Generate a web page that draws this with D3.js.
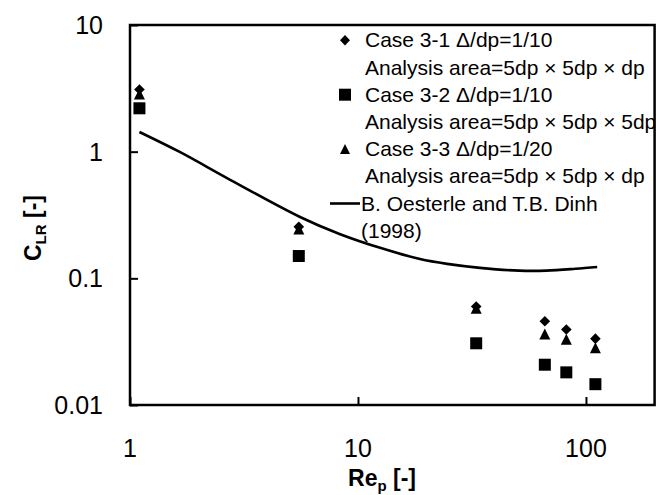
<!DOCTYPE html>
<html>
<head>
<meta charset="utf-8">
<script src="https://cdn.jsdelivr.net/npm/d3@7"></script>
<style>
  html, body { margin: 0; padding: 0; background: #fff; }
  svg { display: block; font-family: "Liberation Sans", Arial, sans-serif; }
</style>
</head>
<body>
<svg id="chart" width="660" height="495"></svg>
<script>
// ---- data ----
const rep = [1.1, 5.5, 33, 66, 82, 110];
const case31 = [3.1, 0.255, 0.060, 0.0458, 0.0395, 0.0334];   // diamond
const case32 = [2.2, 0.15, 0.0307, 0.0208, 0.0181, 0.0146];   // square
const case33 = [2.85, 0.245, 0.058, 0.0364, 0.0331, 0.0283];  // triangle
const oesterleRe = [1.1, 1.66, 2.75, 5.57, 8.3, 12.5, 18.7, 24.6, 34.3, 51, 67, 90, 112];
const oesterleC = [1.43, 0.99, 0.60, 0.305, 0.224, 0.174, 0.142, 0.130, 0.121, 0.115, 0.115, 0.119, 0.123];
const xTicks = [1, 10, 100];
const yTicks = [0.01, 0.1, 1, 10];
const xTickLabels = ["1", "10", "100"];
const yTickLabels = ["0.01", "0.1", "1", "10"];
const legendLabels = [
  "Case 3-1 Δ/dp=1/10", "Analysis area=5dp × 5dp × dp",
  "Case 3-2 Δ/dp=1/10", "Analysis area=5dp × 5dp × 5dp",
  "Case 3-3 Δ/dp=1/20", "Analysis area=5dp × 5dp × dp",
  "B. Oesterle and T.B. Dinh", "(1998)"
];

// ---- layout ----
const L = 130, R = 654.6, T = 25, B = 405;
const svg = d3.select("#chart");
const x = d3.scaleLog().domain([1, 200]).range([L, R]);
const y = d3.scaleLog().domain([0.01, 10]).range([B, T]);

// marker shapes
function diamond(w, h) { return `M0,${-h}L${w},0L0,${h}L${-w},0Z`; }
function square(s) { return `M${-s},${-s}H${s}V${s}H${-s}Z`; }
function triangle(w, h) { return `M0,${-h/2}L${w/2},${h/2}L${-w/2},${h/2}Z`; }

svg.append("defs").append("clipPath").attr("id", "plotclip")
  .append("rect").attr("x", 0).attr("y", 0).attr("width", R).attr("height", 495);

// ticks (inside)
const xAxis = d3.axisBottom(x).tickValues(xTicks).tickSize(-8).tickFormat("");
const yAxis = d3.axisLeft(y).tickValues(yTicks).tickSize(-8).tickFormat("");
const gx = svg.append("g").attr("transform", `translate(0,${B})`).call(xAxis);
const gy = svg.append("g").attr("transform", `translate(${L},0)`).call(yAxis);
[gx, gy].forEach(g => {
  g.select(".domain").remove();
  g.selectAll("line").attr("stroke", "#000").attr("stroke-width", 2);
});

// tick labels
svg.append("g").selectAll("text").data(xTicks).join("text")
  .attr("x", d => x(d)).attr("y", 457)
  .attr("text-anchor", "middle").attr("font-size", 25).attr("fill", "#000")
  .text((d, i) => xTickLabels[i]);
svg.append("g").selectAll("text").data(yTicks).join("text")
  .attr("x", 103).attr("y", d => y(d) + 9)
  .attr("text-anchor", "end").attr("font-size", 25).attr("fill", "#000")
  .text((d, i) => yTickLabels[i]);

// Oesterle line
const lineData = oesterleRe.map((r, i) => [r, oesterleC[i]]);
svg.append("path").datum(lineData)
  .attr("fill", "none").attr("stroke", "#000").attr("stroke-width", 2.6)
  .attr("d", d3.line().x(d => x(d[0])).y(d => y(d[1])).curve(d3.curveCatmullRom.alpha(0.5)));

// markers
const g = svg.append("g");
g.selectAll(".sq").data(rep).join("path").attr("class", "sq")
  .attr("transform", (d, i) => `translate(${x(d)},${y(case32[i])})`)
  .attr("d", square(6)).attr("fill", "#000");
g.selectAll(".tri").data(rep).join("path").attr("class", "tri")
  .attr("transform", (d, i) => `translate(${x(d)},${y(case33[i])})`)
  .attr("d", triangle(11, 11)).attr("fill", "#000");
g.selectAll(".dia").data(rep).join("path").attr("class", "dia")
  .attr("transform", (d, i) => `translate(${x(d)},${y(case31[i])})`)
  .attr("d", diamond(5.3, 5.3)).attr("fill", "#000");

// legend
const lg = svg.append("g").attr("clip-path", "url(#plotclip)");
const base0 = 47.3, step = 27.2;
lg.selectAll("text").data(legendLabels).join("text")
  .attr("x", (d, i) => i >= 6 ? 361 : 365)
  .attr("y", (d, i) => base0 + i * step)
  .attr("font-size", 21).attr("fill", "#000")
  .text(d => d);
lg.append("path").attr("transform", `translate(345,${base0 - 7})`).attr("d", diamond(5, 5.3)).attr("fill", "#000");
lg.append("path").attr("transform", `translate(345,${base0 + 2*step - 7})`).attr("d", square(6)).attr("fill", "#000");
lg.append("path").attr("transform", `translate(345,${base0 + 4*step - 7})`).attr("d", triangle(10, 10)).attr("fill", "#000");
lg.append("line").attr("x1", 330).attr("x2", 360)
  .attr("y1", base0 + 6*step - 7).attr("y2", base0 + 6*step - 7)
  .attr("stroke", "#000").attr("stroke-width", 2.6);

// frame
svg.append("rect").attr("x", L).attr("y", T).attr("width", R - L).attr("height", B - T)
  .attr("fill", "none").attr("stroke", "#000").attr("stroke-width", 2.5);

// axis titles
const xt = svg.append("text").attr("x", 382).attr("y", 486)
  .attr("text-anchor", "middle").attr("font-size", 23).attr("font-weight", "bold").attr("fill", "#000");
xt.append("tspan").text("Re");
xt.append("tspan").attr("font-size", 15).attr("dy", 5).text("p");
xt.append("tspan").attr("dy", -5).text(" [-]");

const yt = svg.append("text").attr("transform", "translate(41,228) rotate(-90)")
  .attr("text-anchor", "middle").attr("font-size", 23).attr("font-weight", "bold").attr("fill", "#000");
yt.append("tspan").text("C");
yt.append("tspan").attr("font-size", 15).attr("dy", 5).text("LR");
yt.append("tspan").attr("dy", -5).text(" [-]");
</script>
</body>
</html>
